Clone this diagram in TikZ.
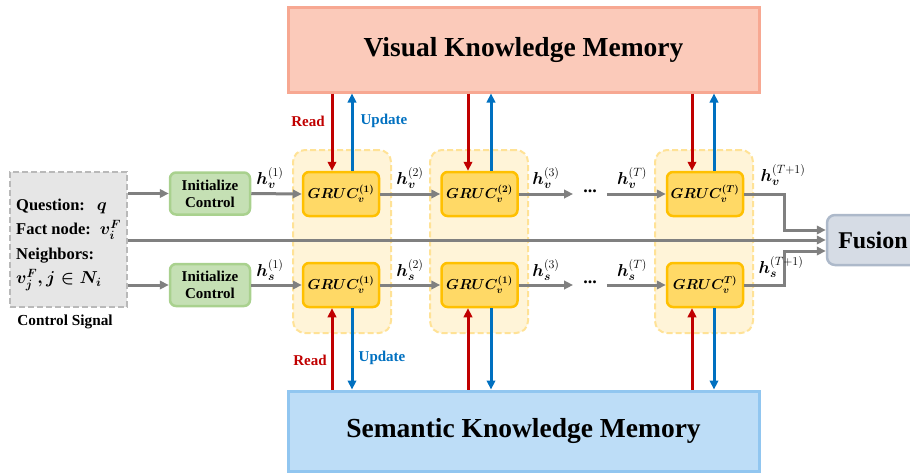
\documentclass[tikz,border=0pt]{standalone}
\usepackage{amsmath}
\usepackage{fontspec}
\setmainfont{Liberation Serif}
\usetikzlibrary{arrows.meta,calc}
\definecolor{vkmfill}{RGB}{251,202,186}
\definecolor{vkmdraw}{RGB}{247,168,146}
\definecolor{skmfill}{RGB}{189,221,247}
\definecolor{skmdraw}{RGB}{145,198,240}
\definecolor{ctrlfill}{RGB}{230,230,230}
\definecolor{ctrldraw}{RGB}{185,185,185}
\definecolor{initfill}{RGB}{197,224,180}
\definecolor{initdraw}{RGB}{169,209,142}
\definecolor{grufill}{RGB}{255,217,102}
\definecolor{grudraw}{RGB}{255,192,0}
\definecolor{grpfill}{RGB}{255,244,216}
\definecolor{grpdraw}{RGB}{255,226,150}
\definecolor{fusfill}{RGB}{214,220,229}
\definecolor{fusdraw}{RGB}{173,185,202}
\definecolor{arrgray}{RGB}{128,128,128}
\definecolor{rdred}{RGB}{192,0,0}
\definecolor{upblue}{RGB}{0,112,192}
\tikzset{
  memvis/.style={draw=vkmdraw, fill=vkmfill, line width=3pt, minimum width=471pt, minimum height=85pt, font=\fontsize{27.5}{30}\selectfont\bfseries},
  memsem/.style={draw=skmdraw, fill=skmfill, line width=3pt, minimum width=471pt, minimum height=80pt, font=\fontsize{27.5}{30}\selectfont\bfseries},
  ctrlbox/.style={draw=ctrldraw, fill=ctrlfill, dashed, dash pattern=on 6pt off 3pt, line width=2pt, minimum width=117pt, minimum height=135pt},
  initbox/.style={draw=initdraw, fill=initfill, line width=2.5pt, rounded corners=6pt, minimum width=80pt, minimum height=42pt, align=center, font=\fontsize{15}{17}\selectfont\bfseries},
  grubox/.style={draw=grudraw, fill=grufill, line width=2.5pt, rounded corners=6pt, minimum width=76pt, minimum height=44pt, font=\fontsize{14}{16}\selectfont},
  grpbox/.style={draw=grpdraw, fill=grpfill, dashed, dash pattern=on 6pt off 3pt, line width=2pt, rounded corners=12pt, minimum width=98pt, minimum height=183pt},
  fusbox/.style={draw=fusdraw, fill=fusfill, line width=2.5pt, rounded corners=8pt, minimum width=92pt, minimum height=50pt, font=\fontsize{24}{26}\selectfont\bfseries},
  flow/.style={draw=arrgray, line width=3pt, -{Triangle[length=9pt,width=8.5pt]}},
  rd/.style={draw=rdred, line width=3pt, -{Triangle[length=9pt,width=8.5pt]}},
  up/.style={draw=upblue, line width=3pt, -{Triangle[length=9pt,width=8.5pt]}},
  hlab/.style={font=\fontsize{17}{19}\selectfont, inner sep=1pt},
  dotlab/.style={inner xsep=10pt, font=\fontsize{18}{20}\selectfont\bfseries},
  rdlab/.style={text=rdred, font=\fontsize{15}{16}\selectfont\bfseries},
  uplab/.style={text=upblue, font=\fontsize{15}{16}\selectfont\bfseries},
}
\begin{document}
\begin{tikzpicture}[x=1pt,y=-1pt]
\useasboundingbox (0,0) rectangle (910,472);
% groups
\node[grpbox] (grp1) at (342,241.5) {};
\node[grpbox] (grp2) at (479,241.5) {};
\node[grpbox] (grp3) at (704,241.5) {};
% memories
\node[memvis] (vkm) at (523.5,49.5) {Visual Knowledge Memory};
\node[memsem] (skm) at (523.5,431) {Semantic Knowledge Memory};
% control signal
\node[ctrlbox] (ctrl) at (68.5,239.5) {};
\node[anchor=west, align=left, font=\fontsize{16.5}{24.5}\selectfont\bfseries, inner sep=0pt] (ctxt) at (16,245)
 {Question:\hspace{12pt}$\boldsymbol{q}$\\Fact node:\hspace{9pt}$\boldsymbol{v_i^F}$\\Neighbors:\\$\boldsymbol{v_j^F, j\in N_i}$};
\node[font=\fontsize{15.3}{17}\selectfont\bfseries] (ctitle) at (65,322) {Control Signal};
% init
\node[initbox] (init1) at (210,193.5) {Initialize\\Control};
\node[initbox] (init2) at (210,285) {Initialize\\Control};
% GRUC
\node[grubox] (g1v) at (341,194) {$\boldsymbol{GRUC_v^{(1)}}$};
\node[grubox] (g1s) at (341,285) {$\boldsymbol{GRUC_v^{(1)}}$};
\node[grubox] (g2v) at (479.5,194) {$\boldsymbol{GRUC_v^{(2)}}$};
\node[grubox] (g2s) at (479.5,285) {$\boldsymbol{GRUC_v^{(1)}}$};
\node[grubox] (g3v) at (705,194) {$\boldsymbol{GRUC_v^{(T)}}$};
\node[grubox] (g3s) at (705,285) {$\boldsymbol{GRUC_v^{T)}}$};
% fusion
\node[fusbox] (fus) at (873,240) {Fusion};
% dots
\node[dotlab] (dv) at (590,191) {...};
\node[dotlab] (ds) at (590,282) {...};
% control arrows
\draw[flow] (ctrl.east |- init1.west) -- (init1.west);
\draw[flow] (ctrl.east |- init2.west) -- (init2.west);
\draw[flow] (ctrl.east |- fus.west) -- (fus.west);
% visual row
\draw[flow] (init1.east) -- (g1v.west);
\draw[flow] (g1v.east) -- (g2v.west);
\draw[flow] (g2v.east) -- (dv.west |- g2v.east);
\draw[flow] (dv.east |- g3v.west) -- (g3v.west);
\draw[flow] (g3v.east) -- ++(40,0) |- ([yshift=10pt]fus.west);
% semantic row
\draw[flow] (init2.east) -- (g1s.west);
\draw[flow] (g1s.east) -- (g2s.west);
\draw[flow] (g2s.east) -- (ds.west |- g2s.east);
\draw[flow] (ds.east |- g3s.west) -- (g3s.west);
\draw[flow] (g3s.east) -- ++(40,0) |- ([yshift=-11pt]fus.west);
% h labels
\node[hlab] (hv1) at (270,178) {$\boldsymbol{h}_{\boldsymbol{v}}^{(1)}$};
\node[hlab] (hv2) at (410,178) {$\boldsymbol{h}_{\boldsymbol{v}}^{(2)}$};
\node[hlab] (hv3) at (546,178) {$\boldsymbol{h}_{\boldsymbol{v}}^{(3)}$};
\node[hlab] (hvT) at (632,178) {$\boldsymbol{h}_{\boldsymbol{v}}^{(T)}$};
\node[hlab] (hvT1) at (783,175) {$\boldsymbol{h}_{\boldsymbol{v}}^{(T+1)}$};
\node[hlab] (hs1) at (270,270) {$\boldsymbol{h}_{\boldsymbol{s}}^{(1)}$};
\node[hlab] (hs2) at (410,270) {$\boldsymbol{h}_{\boldsymbol{s}}^{(2)}$};
\node[hlab] (hs3) at (546,270) {$\boldsymbol{h}_{\boldsymbol{s}}^{(3)}$};
\node[hlab] (hsT) at (632,270) {$\boldsymbol{h}_{\boldsymbol{s}}^{(T)}$};
\node[hlab] (hsT1) at (781,267) {$\boldsymbol{h}_{\boldsymbol{s}}^{(T+1)}$};
% read / update top
\draw[rd] ([xshift=-9pt]g1v.north |- vkm.south) -- ([xshift=-9pt]g1v.north);
\draw[up] ([xshift=11pt]g1v.north) -- ([xshift=11pt]g1v.north |- vkm.south);
\draw[rd] ([xshift=-11.5pt]g2v.north |- vkm.south) -- ([xshift=-11.5pt]g2v.north);
\draw[up] ([xshift=11.5pt]g2v.north) -- ([xshift=11.5pt]g2v.north |- vkm.south);
\draw[rd] ([xshift=-13pt]g3v.north |- vkm.south) -- ([xshift=-13pt]g3v.north);
\draw[up] ([xshift=9pt]g3v.north) -- ([xshift=9pt]g3v.north |- vkm.south);
% read / update bottom
\draw[rd] ([xshift=-9pt]g1s.south |- skm.north) -- ([xshift=-9pt]g1s.south);
\draw[up] ([xshift=11pt]g1s.south) -- ([xshift=11pt]g1s.south |- skm.north);
\draw[rd] ([xshift=-11.5pt]g2s.south |- skm.north) -- ([xshift=-11.5pt]g2s.south);
\draw[up] ([xshift=11.5pt]g2s.south) -- ([xshift=11.5pt]g2s.south |- skm.north);
\draw[rd] ([xshift=-13pt]g3s.south |- skm.north) -- ([xshift=-13pt]g3s.south);
\draw[up] ([xshift=9pt]g3s.south) -- ([xshift=9pt]g3s.south |- skm.north);
% labels
\node[rdlab] (rl1) at (308,121) {Read};
\node[uplab] (ul1) at (384,121) {Update};
\node[rdlab] (rl2) at (310,360) {Read};
\node[uplab] (ul2) at (382,358) {Update};
\end{tikzpicture}
\end{document}
